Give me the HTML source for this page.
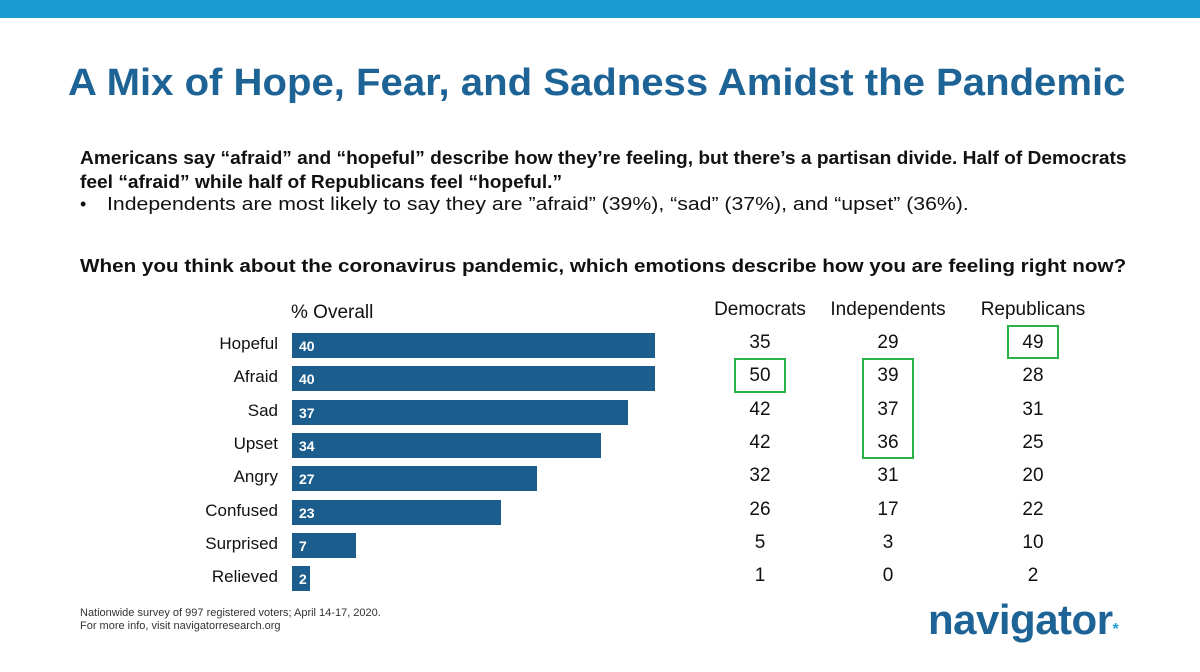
<!DOCTYPE html>
<html><head><meta charset="utf-8"><style>
body{margin:0;width:1200px;height:672px;background:#fff;font-family:"Liberation Sans",sans-serif;position:relative;overflow:hidden;color:#111}
.a{position:absolute;white-space:nowrap;transform-origin:0 0}
</style></head><body>
<div class="a" style="left:0;top:0;width:1200px;height:18px;background:#1a9bd0"></div>
<div class="a" style="left:68px;top:62px;font-size:38px;font-weight:bold;color:#1d6396;transform:scaleX(1.055)">A Mix of Hope, Fear, and Sadness Amidst the Pandemic</div>
<div class="a" style="left:80px;top:146px;font-size:18px;font-weight:bold;line-height:24px;transform:scaleX(1.064)">Americans say “afraid” and “hopeful” describe how they’re feeling, but there’s a partisan divide. Half of Democrats<br>feel “afraid” while half of Republicans feel “hopeful.”</div>
<div class="a" style="left:80px;top:194px;font-size:18px">•</div>
<div class="a" style="left:107px;top:194px;font-size:18px;transform:scaleX(1.18)">Independents are most likely to say they are ”afraid” (39%), “sad” (37%), and “upset” (36%).</div>
<div class="a" style="left:80px;top:256px;font-size:18px;font-weight:bold;transform:scaleX(1.147)">When you think about the coronavirus pandemic, which emotions describe how you are feeling right now?</div>
<div class="a" style="left:291px;top:302px;font-size:19px">% Overall</div>
<div id="chart"></div>
<div class="a" style="left:80px;top:607px;font-size:11px;color:#333;line-height:13px">Nationwide survey of 997 registered voters; April 14-17, 2020.<br>For more info, visit navigatorresearch.org</div>
<div class="a" style="left:928px;top:596px;font-size:42px;font-weight:bold;color:#1d6396;letter-spacing:-0.5px">navigator<span style="font-size:16px;color:#1a9bd0">*</span></div>
<script>
const categories=["Hopeful","Afraid","Sad","Upset","Angry","Confused","Surprised","Relieved"];
const overall=[40,40,37,34,27,23,7,2];
const groups=["Democrats","Independents","Republicans"];
const dem=[35,50,42,42,32,26,5,1];
const ind=[29,39,37,36,31,17,3,0];
const rep=[49,28,31,25,20,22,10,2];
const x0=292,unit=363/40,y0=333,pitch=33.3,bh=25;
const colX=[760,888,1033];
const c=document.getElementById('chart');
function div(css,txt){const d=document.createElement('div');d.className='a';d.style.cssText=css;if(txt!==undefined)d.textContent=txt;c.appendChild(d);return d;}
categories.forEach((cat,i)=>{
 const y=y0+i*pitch;
 const l=div(`left:130px;width:148px;text-align:right;top:${y+1}px;font-size:17px`,cat);
 
 
 const b=div(`left:${x0}px;top:${y}px;width:${overall[i]*unit}px;height:${bh}px;background:#1b5e8e`);
 
 
 const v=div(`left:${x0+7}px;top:${y+5}px;font-size:14px;font-weight:bold;color:#fff`,overall[i]);
 
 
 [dem,ind,rep].forEach((arr,j)=>{
  const t=div(`left:${colX[j]-30}px;width:60px;text-align:center;top:${y-1}px;font-size:19px`,arr[i]);
  
  
 });
});
groups.forEach((g,j)=>{
 const h=div(`left:${colX[j]-80}px;width:160px;text-align:center;top:299px;font-size:19px`,g);
 
 
});
function box(col,r0,r1,name){
 const d=div(`left:${colX[col]-26}px;top:${y0+r0*pitch-8}px;width:48px;height:${(r1-r0+1)*pitch-3}px;border:2px solid #2ab24a`);
 
 
}
box(2,0,0,'highlight-rep-hopeful');box(0,1,1,'highlight-dem-afraid');box(1,1,3,'highlight-ind');
</script>
</body></html>
